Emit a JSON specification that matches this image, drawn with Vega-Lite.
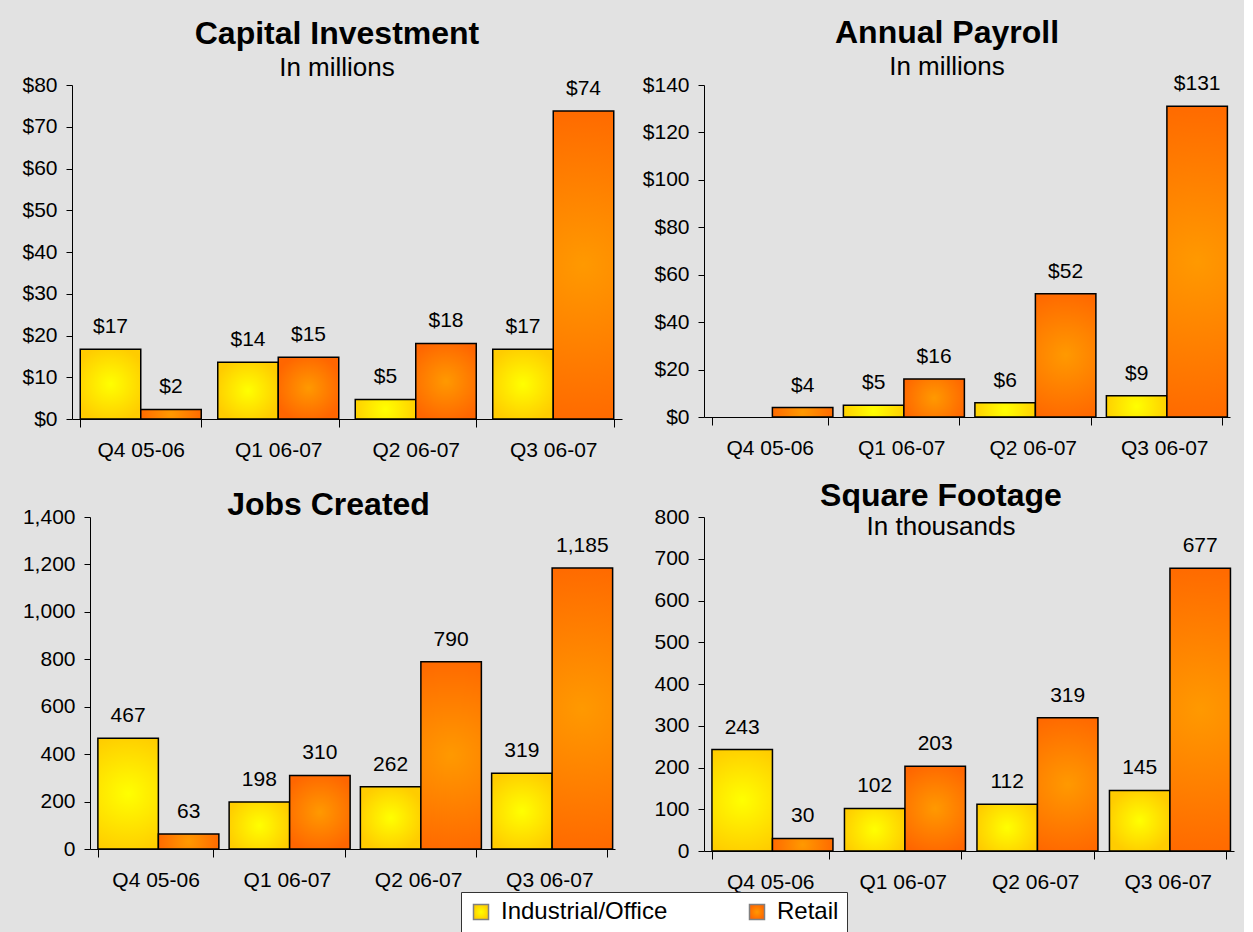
{
  "$schema": "https://vega.github.io/schema/vega-lite/v6.json",
  "background": "#e2e2e2",
  "padding": {"left": 21, "top": 17, "right": 10, "bottom": 0},
  "align": "none",
  "config": {
    "font": "Liberation Sans",
    "view": {"stroke": null},
    "axis": {"domainColor": "black", "tickColor": "black", "labelColor": "black", "grid": false, "labelFontSize": 21, "domainWidth": 1, "tickWidth": 1},
    "axisX": {"labelAngle": 0, "tickBand": "extent", "tickSize": 8, "labelPadding": 12, "labelFontSize": 21, "title": null},
    "axisY": {"tickSize": 6, "labelPadding": 9, "title": null},
    "title": {"fontSize": 32, "fontWeight": "bold", "color": "black", "subtitleFontSize": 26, "subtitleColor": "black", "subtitlePadding": 4, "offset": -8, "anchor": "middle"},
    "text": {"fontSize": 21, "color": "black", "baseline": "bottom", "dy": -12},
    "legend": {"fillColor": "white", "strokeColor": "#333333", "padding": 8, "labelFontSize": 24, "labelLimit": 400, "labelColor": "black", "symbolType": "square", "symbolSize": 225, "symbolStrokeColor": "#808080", "symbolStrokeWidth": 1.5, "columnPadding": 77, "labelOffset": 8, "direction": "horizontal"}
  },
  "datasets": {
    "d": [
      {"metric": "Capital", "quarter": "Q4 05-06", "type": "Industrial/Office", "value": 16.7},
      {"metric": "Capital", "quarter": "Q4 05-06", "type": "Retail", "value": 2.3},
      {"metric": "Capital", "quarter": "Q1 06-07", "type": "Industrial/Office", "value": 13.6},
      {"metric": "Capital", "quarter": "Q1 06-07", "type": "Retail", "value": 14.8},
      {"metric": "Capital", "quarter": "Q2 06-07", "type": "Industrial/Office", "value": 4.7},
      {"metric": "Capital", "quarter": "Q2 06-07", "type": "Retail", "value": 18.1},
      {"metric": "Capital", "quarter": "Q3 06-07", "type": "Industrial/Office", "value": 16.7},
      {"metric": "Capital", "quarter": "Q3 06-07", "type": "Retail", "value": 73.8},
      {"metric": "Payroll", "quarter": "Q4 05-06", "type": "Retail", "value": 4},
      {"metric": "Payroll", "quarter": "Q1 06-07", "type": "Industrial/Office", "value": 5},
      {"metric": "Payroll", "quarter": "Q1 06-07", "type": "Retail", "value": 16},
      {"metric": "Payroll", "quarter": "Q2 06-07", "type": "Industrial/Office", "value": 6},
      {"metric": "Payroll", "quarter": "Q2 06-07", "type": "Retail", "value": 52},
      {"metric": "Payroll", "quarter": "Q3 06-07", "type": "Industrial/Office", "value": 9},
      {"metric": "Payroll", "quarter": "Q3 06-07", "type": "Retail", "value": 131},
      {"metric": "Jobs", "quarter": "Q4 05-06", "type": "Industrial/Office", "value": 467},
      {"metric": "Jobs", "quarter": "Q4 05-06", "type": "Retail", "value": 63},
      {"metric": "Jobs", "quarter": "Q1 06-07", "type": "Industrial/Office", "value": 198},
      {"metric": "Jobs", "quarter": "Q1 06-07", "type": "Retail", "value": 310},
      {"metric": "Jobs", "quarter": "Q2 06-07", "type": "Industrial/Office", "value": 262},
      {"metric": "Jobs", "quarter": "Q2 06-07", "type": "Retail", "value": 790},
      {"metric": "Jobs", "quarter": "Q3 06-07", "type": "Industrial/Office", "value": 319},
      {"metric": "Jobs", "quarter": "Q3 06-07", "type": "Retail", "value": 1185},
      {"metric": "SqFt", "quarter": "Q4 05-06", "type": "Industrial/Office", "value": 243},
      {"metric": "SqFt", "quarter": "Q4 05-06", "type": "Retail", "value": 30},
      {"metric": "SqFt", "quarter": "Q1 06-07", "type": "Industrial/Office", "value": 102},
      {"metric": "SqFt", "quarter": "Q1 06-07", "type": "Retail", "value": 203},
      {"metric": "SqFt", "quarter": "Q2 06-07", "type": "Industrial/Office", "value": 112},
      {"metric": "SqFt", "quarter": "Q2 06-07", "type": "Retail", "value": 319},
      {"metric": "SqFt", "quarter": "Q3 06-07", "type": "Industrial/Office", "value": 145},
      {"metric": "SqFt", "quarter": "Q3 06-07", "type": "Retail", "value": 677}
    ]
  },
  "spacing": 20,
  "vconcat": [
    {
      "spacing": 20,
      "hconcat": [
        {
          "width": 550, "height": 334,
          "title": {"text": "Capital Investment", "subtitle": "In millions", "dx": -10},
          "data": {"name": "d"},
          "transform": [{"filter": "datum.metric === 'Capital'"}],
          "encoding": {
            "x": {"field": "quarter", "type": "nominal", "sort": ["Q4 05-06", "Q1 06-07", "Q2 06-07", "Q3 06-07"], "scale": {"paddingInner": 0.12, "paddingOuter": 0.06}},
            "xOffset": {"field": "type", "type": "nominal", "scale": {"domain": ["Industrial/Office", "Retail"]}},
            "y": {"field": "value", "type": "quantitative", "scale": {"domain": [0, 80]}, "axis": {"values": [0, 10, 20, 30, 40, 50, 60, 70, 80], "format": "$,.0f"}}
          },
          "layer": [
            {"mark": {"type": "bar", "stroke": "black", "strokeWidth": 1.5},
             "encoding": {"color": {"field": "type", "type": "nominal", "title": null,
               "scale": {"domain": ["Industrial/Office", "Retail"], "range": [
                 {"expr": "{gradient:'radial',x1:0.5,y1:0.5,r1:0,x2:0.5,y2:0.5,r2:0.55,stops:[{offset:0,color:'#ffff00'},{offset:1,color:'#ffcc00'}]}"},
                 {"expr": "{gradient:'radial',x1:0.5,y1:0.5,r1:0,x2:0.5,y2:0.5,r2:0.55,stops:[{offset:0,color:'#ff9900'},{offset:1,color:'#ff6600'}]}"}
               ]},
               "legend": {"orient": "none", "legendX": 389, "legendY": 807}}}},
            {"mark": {"type": "text"}, "encoding": {"text": {"field": "value", "type": "quantitative", "format": "$.0f"}}}
          ]
        },
        {
          "width": 526, "height": 332,
          "title": {"text": "Annual Payroll", "subtitle": "In millions", "dx": -20},
          "data": {"name": "d"},
          "transform": [{"filter": "datum.metric === 'Payroll'"}],
          "encoding": {
            "x": {"field": "quarter", "type": "nominal", "sort": ["Q4 05-06", "Q1 06-07", "Q2 06-07", "Q3 06-07"], "scale": {"paddingInner": 0.12, "paddingOuter": 0.06}},
            "xOffset": {"field": "type", "type": "nominal", "scale": {"domain": ["Industrial/Office", "Retail"]}},
            "y": {"field": "value", "type": "quantitative", "scale": {"domain": [0, 140]}, "axis": {"values": [0, 20, 40, 60, 80, 100, 120, 140], "format": "$,.0f"}}
          },
          "layer": [
            {"mark": {"type": "bar", "stroke": "black", "strokeWidth": 1.5},
             "encoding": {"color": {"field": "type", "type": "nominal", "title": null}}},
            {"mark": {"type": "text"}, "encoding": {"text": {"field": "value", "type": "quantitative", "format": "$.0f"}}}
          ]
        }
      ]
    },
    {
      "spacing": 38,
      "hconcat": [
        {
          "width": 543, "height": 332,
          "title": {"text": "Jobs Created", "offset": -16, "dx": -15},
          "data": {"name": "d"},
          "transform": [{"filter": "datum.metric === 'Jobs'"}],
          "encoding": {
            "x": {"field": "quarter", "type": "nominal", "sort": ["Q4 05-06", "Q1 06-07", "Q2 06-07", "Q3 06-07"], "scale": {"range": [18, 543], "paddingInner": 0.12, "paddingOuter": 0.06}},
            "xOffset": {"field": "type", "type": "nominal", "scale": {"domain": ["Industrial/Office", "Retail"]}},
            "y": {"field": "value", "type": "quantitative", "scale": {"domain": [0, 1400]}, "axis": {"values": [0, 200, 400, 600, 800, 1000, 1200, 1400], "format": ",d", "offset": -18}}
          },
          "layer": [
            {"mark": {"type": "bar", "stroke": "black", "strokeWidth": 1.5},
             "encoding": {"color": {"field": "type", "type": "nominal", "title": null}}},
            {"mark": {"type": "text"}, "encoding": {"text": {"field": "value", "type": "quantitative", "format": ",d"}}}
          ]
        },
        {
          "width": 530, "height": 334,
          "title": {"text": "Square Footage", "subtitle": "In thousands", "offset": -35, "subtitlePadding": 1, "dx": -28},
          "data": {"name": "d"},
          "transform": [{"filter": "datum.metric === 'SqFt'"}],
          "encoding": {
            "x": {"field": "quarter", "type": "nominal", "sort": ["Q4 05-06", "Q1 06-07", "Q2 06-07", "Q3 06-07"], "scale": {"paddingInner": 0.12, "paddingOuter": 0.06}},
            "xOffset": {"field": "type", "type": "nominal", "scale": {"domain": ["Industrial/Office", "Retail"]}},
            "y": {"field": "value", "type": "quantitative", "scale": {"domain": [0, 800]}, "axis": {"values": [0, 100, 200, 300, 400, 500, 600, 700, 800], "format": "d"}}
          },
          "layer": [
            {"mark": {"type": "bar", "stroke": "black", "strokeWidth": 1.5},
             "encoding": {"color": {"field": "type", "type": "nominal", "title": null}}},
            {"mark": {"type": "text"}, "encoding": {"text": {"field": "value", "type": "quantitative", "format": "d"}}}
          ]
        }
      ]
    }
  ]
}
